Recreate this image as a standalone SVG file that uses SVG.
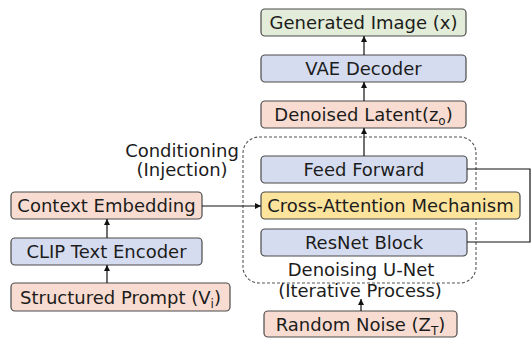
<svg xmlns="http://www.w3.org/2000/svg" width="532" height="338" viewBox="0 0 532 338">
<style>
text{font-family:"DejaVu Sans",Verdana,sans-serif;font-size:18px;fill:#1c1c1c;text-anchor:middle}
.sub{font-size:12px}
.box{stroke:#4a4a4a;stroke-width:1.2}
.peach{fill:#f9dcd1}
.blue{fill:#d6dcef}
.green{fill:#e3ecd8}
.yellow{fill:#fde49d}
.ln{stroke:#111;stroke-width:1.2;fill:none}
</style>
<defs>
<marker id="ah" viewBox="0 0 10 10" refX="10" refY="5" markerWidth="6" markerHeight="6" orient="auto" markerUnits="userSpaceOnUse">
<path d="M0,0 L10,5 L0,10 z" fill="#111"/>
</marker>
</defs>
<g id="unet">
<rect x="243" y="137" width="233" height="146" rx="16" fill="none" stroke="#555" stroke-width="1.1" stroke-dasharray="3,2"/>
<text x="361" y="276">Denoising U-Net</text>
<text x="360" y="297">(Iterative Process)</text>
</g>
<g id="conditioning-label">
<text x="182" y="157">Conditioning</text>
<text x="182" y="176">(Injection)</text>
</g>
<g id="generated">
<rect class="box green" x="261" y="9" width="205" height="27" rx="4"/>
<text x="363.5" y="29">Generated Image (x)</text>
</g>
<g id="vae">
<rect class="box blue" x="261" y="55" width="205" height="27" rx="4"/>
<text x="363.5" y="75">VAE Decoder</text>
</g>
<g id="denoised">
<rect class="box peach" x="261" y="101" width="205" height="27" rx="4"/>
<text x="363.5" y="121">Denoised Latent(z<tspan class="sub" dy="4">o</tspan><tspan dy="-4">)</tspan></text>
</g>
<g id="feedforward">
<rect class="box blue" x="261" y="156" width="206" height="27" rx="4"/>
<text x="364" y="176">Feed Forward</text>
</g>
<g id="crossattn">
<rect class="box yellow" x="261" y="192" width="259" height="27" rx="4"/>
<text x="390.5" y="212">Cross-Attention Mechanism</text>
</g>
<g id="resnet">
<rect class="box blue" x="261" y="229" width="206" height="27" rx="4"/>
<text x="364" y="249">ResNet Block</text>
</g>
<g id="noise">
<rect class="box peach" x="264" y="311" width="193" height="26" rx="4"/>
<text x="360.5" y="331">Random Noise (Z<tspan class="sub" dy="4">T</tspan><tspan dy="-4">)</tspan></text>
</g>
<g id="context">
<rect class="box peach" x="11" y="192" width="191" height="27" rx="4"/>
<text x="106.5" y="212">Context Embedding</text>
</g>
<g id="clip">
<rect class="box blue" x="11" y="238" width="191" height="27" rx="4"/>
<text x="106.5" y="258">CLIP Text Encoder</text>
</g>
<g id="prompt">
<rect class="box peach" x="11" y="283" width="219" height="28" rx="4"/>
<text x="120.5" y="304">Structured Prompt (V<tspan class="sub" dy="4">i</tspan><tspan dy="-4">)</tspan></text>
</g>
<g id="connectors">
<line class="ln" x1="364" y1="55" x2="364" y2="36" marker-end="url(#ah)"/>
<line class="ln" x1="364" y1="101" x2="364" y2="82" marker-end="url(#ah)"/>
<line class="ln" x1="364" y1="156" x2="364" y2="128" marker-end="url(#ah)"/>
<line class="ln" x1="361" y1="311" x2="361" y2="299" marker-end="url(#ah)"/>
<line class="ln" x1="107" y1="238" x2="107" y2="219" marker-end="url(#ah)"/>
<line class="ln" x1="107" y1="283" x2="107" y2="265" marker-end="url(#ah)"/>
<line class="ln" x1="202" y1="206" x2="261" y2="206" stroke="#555" marker-end="url(#ah)"/>
<polyline class="ln" points="467,169 530,169 530,242 467,242"/>
</g>
</svg>
